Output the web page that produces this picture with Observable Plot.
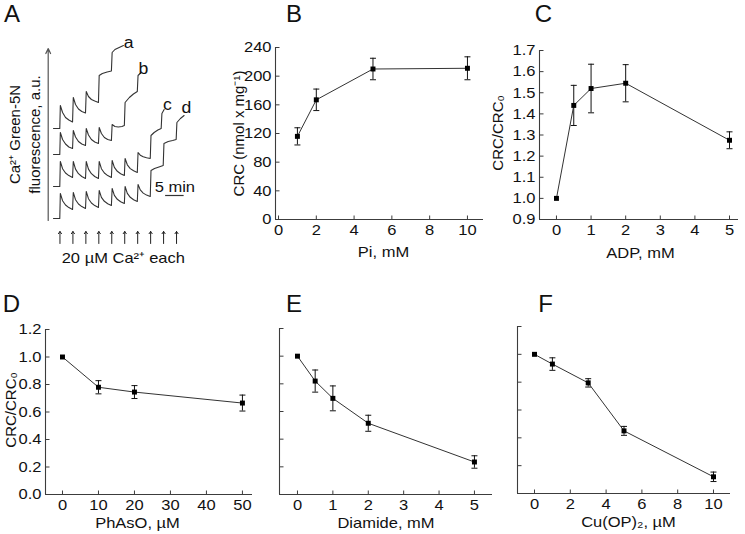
<!DOCTYPE html>
<html><head><meta charset="utf-8">
<script src="https://cdn.jsdelivr.net/npm/d3@7"></script>
<script src="https://cdn.jsdelivr.net/npm/@observablehq/plot@0.6"></script>
<style>
html,body{margin:0;padding:0;background:#fff;}
#fig{position:relative;width:745px;height:534px;overflow:hidden;background:#fff;}
#fig svg{max-width:none;overflow:visible;background:transparent;}
</style></head><body><div id="fig"></div>
<script>
// ---------- Panel A: Ca2+ Green-5N traces (t in min, F in a.u.) ----------
const pulseTimes = [1.75, 5.25, 8.75, 12.25, 15.75, 19.25, 22.75, 26.25, 29.75, 33.25];
const traceAT = [0, 1.7, 1.85, 2.45, 3.25, 4.15, 5.15, 5.35, 5.95, 6.75, 7.65, 8.65, 8.85, 9.45, 10.25, 11.15, 12.15, 12.35, 13.2, 14.5, 15.65, 15.85, 16.6, 18.9];
const traceAF = [92, 92, 115, 108, 103, 100.5, 98.5, 123, 116, 111.5, 109, 107.5, 129, 124, 121, 119.5, 118, 145, 147, 148.5, 149.5, 168, 171, 175];
const traceBT = [0, 1.7, 1.85, 2.45, 3.25, 4.15, 5.15, 5.35, 5.95, 6.75, 7.65, 8.65, 8.85, 9.45, 10.25, 11.15, 12.15, 12.35, 12.95, 13.75, 14.65, 15.65, 15.85, 16.6, 17.5, 18.5, 19.15, 19.35, 20.5, 21.6, 22.65, 22.85, 23.4];
const traceBF = [66, 66, 88, 81, 76.5, 73.5, 72, 90, 83.5, 79, 76.5, 75, 92, 85.5, 81, 78.5, 77, 93, 87, 83, 81, 80, 96, 94, 93.5, 94, 95, 118, 123, 126.5, 129, 145, 147];
const traceCT = [0, 1.7, 1.85, 2.45, 3.25, 4.15, 5.15, 5.35, 5.95, 6.75, 7.65, 8.65, 8.85, 9.45, 10.25, 11.15, 12.15, 12.35, 12.95, 13.75, 14.65, 15.65, 15.85, 16.45, 17.25, 18.15, 19.15, 19.35, 19.95, 20.75, 21.65, 22.65, 22.85, 23.45, 24.25, 25.15, 26.15, 26.35, 27.2, 28.2, 29.1, 29.3, 29.9];
const traceCF = [34, 34, 59, 51.8, 47.5, 44.9, 43, 59, 51.4, 46.8, 44, 42, 59, 51.4, 46.8, 44, 42, 59, 51.8, 47.5, 44.9, 43, 60, 53.2, 49.2, 46.8, 45, 62, 55.7, 51.9, 49.7, 48, 68, 65.3, 63.7, 62.7, 62, 85, 88, 90.5, 92, 107, 111];
const traceDT = [0, 1.7, 1.85, 2.45, 3.25, 4.15, 5.15, 5.35, 5.95, 6.75, 7.65, 8.65, 8.85, 9.45, 10.25, 11.15, 12.15, 12.35, 12.95, 13.75, 14.65, 15.65, 15.85, 16.45, 17.25, 18.15, 19.15, 19.35, 19.95, 20.75, 21.65, 22.65, 22.85, 23.45, 24.25, 25.15, 26.15, 26.35, 27.3, 28.5, 29.65, 29.85, 31, 32.2, 33.15, 33.35, 34.3, 35.3];
const traceDF = [2, 2, 27, 19.8, 15.5, 12.9, 11, 28, 20.8, 16.5, 13.9, 12, 29, 21.8, 17.5, 14.9, 13, 30, 23.2, 19.2, 16.8, 15, 32, 25.2, 21.2, 18.8, 17, 34, 27.2, 23.2, 20.8, 19, 36, 30.6, 27.4, 25.4, 24, 50, 52, 53.5, 55, 77, 79, 80, 81, 98, 102, 105];
const traceNames = ["a", "b", "c", "d"];
const traceLabelT = [20.3, 24.3, 30.8, 35.9];
const traceLabelF = [178, 152, 116, 113];
const scaleBarMin = 5, scaleBarStartT = 30.3, scaleBarF = 25;

// ---------- Panel B ----------
const piConc = [1, 2, 5, 10];
const piCRC = [116, 167, 210, 211];
const piErr = [12, 15, 15, 16];
const bTicksX = [0, 2, 4, 6, 8, 10];
const bTicksY = [0, 40, 80, 120, 160, 200, 240];

// ---------- Panel C ----------
const adpConc = [0, 0.5, 1, 2, 5];
const adpRatio = [1.0, 1.44, 1.52, 1.545, 1.275];
const adpErr = [0, 0.095, 0.115, 0.088, 0.04];
const cTicksX = [0, 1, 2, 3, 4, 5];
const cTicksY = [0.9, 1.0, 1.1, 1.2, 1.3, 1.4, 1.5, 1.6, 1.7];

// ---------- Panel D ----------
const phasoConc = [0, 10, 20, 50];
const phasoRatio = [1.0, 0.78, 0.745, 0.665];
const phasoErr = [0, 0.048, 0.047, 0.058];
const dTicksX = [0, 10, 20, 30, 40, 50];
const ratioTicksY = [0, 0.2, 0.4, 0.6, 0.8, 1.0, 1.2];

// ---------- Panel E ----------
const diamideConc = [0, 0.5, 1, 2, 5];
const diamideRatio = [1.0, 0.82, 0.695, 0.515, 0.235];
const diamideErr = [0, 0.08, 0.09, 0.058, 0.045];
const eTicksX = [0, 1, 2, 3, 4, 5];

// ---------- Panel F ----------
const cuopConc = [0, 1, 3, 5, 10];
const cuopRatio = [1.0, 0.93, 0.795, 0.45, 0.12];
const cuopErr = [0, 0.045, 0.03, 0.032, 0.034];
const fTicksX = [0, 2, 4, 6, 8, 10];

// ---------- helpers ----------
const FONT = "'Liberation Sans', Arial, sans-serif";
const AXIS = "#3c3c3c", INK = "#111";
const STRETCH = 1.1;
const tickRight = {draw(c){c.moveTo(0,0); c.lineTo(4,0);}};
const tickUp = {draw(c){c.moveTo(0,0); c.lineTo(0,-4);}};
const capSym = {draw(c){c.moveTo(-3,0); c.lineTo(3,0);}};
const intFmt = d3.format("d");
const fig = document.getElementById("fig");

function stretchTexts(svg) {
  svg.querySelectorAll("text").forEach(t => {
    const tr = t.getAttribute("transform") || "";
    if (/rotate/.test(tr) || t.querySelector("tspan") || t.closest("[font-size='24']")) return;
    const w = t.getComputedTextLength();
    if (w > 0) {
      t.setAttribute("textLength", (w * STRETCH).toFixed(2));
      t.setAttribute("lengthAdjust", "spacingAndGlyphs");
    }
  });
}

function place(svg, left, top, width, height) {
  const d = document.createElement("div");
  d.style.cssText = `position:absolute;left:${left}px;top:${top}px;width:${width}px;height:${height}px;`;
  d.append(svg); fig.append(d);
  stretchTexts(svg);
}

function panel(o) {
  const rows = o.xs.map((x, i) => ({x, y: o.ys[i], e: o.errs[i]}));
  const errRows = rows.filter(d => d.e > 0);
  const marks = [
    Plot.ruleX([o.xDomain[0]], {stroke: AXIS, strokeWidth: 1.1}),
    Plot.ruleY([o.yDomain[0]], {stroke: AXIS, strokeWidth: 1.1}),
    Plot.dot(o.yTicks, {x: () => o.xDomain[0], y: d => d, symbol: tickRight, stroke: AXIS, fill: "none", strokeWidth: 1}),
    Plot.dot(o.xTicks, {x: d => d, y: () => o.yDomain[0], symbol: tickUp, stroke: AXIS, fill: "none", strokeWidth: 1}),
    Plot.axisX({ticks: o.xTicks, tickSize: 0, tickPadding: o.xPad, label: null, tickFormat: intFmt, fontSize: 15}),
    Plot.ruleX(errRows, {x: "x", y1: d => d.y - d.e, y2: d => d.y + d.e, stroke: INK, strokeWidth: 1}),
    Plot.dot(errRows, {x: "x", y: d => d.y - d.e, symbol: capSym, stroke: INK, fill: "none", strokeWidth: 1}),
    Plot.dot(errRows, {x: "x", y: d => d.y + d.e, symbol: capSym, stroke: INK, fill: "none", strokeWidth: 1}),
    Plot.line(rows, {x: "x", y: "y", stroke: "#333", strokeWidth: 1}),
    Plot.dot(rows, {x: "x", y: "y", symbol: "square", r: 2.8, fill: "#000", stroke: "none"}),
    Plot.text([o.xTitle], {text: d => d, frameAnchor: "bottom", textAnchor: "middle", dx: o.xTitleDx, dy: o.xTitleDy, lineAnchor: "middle", fontSize: 15, fill: INK}),
    Plot.text([o.letter], {text: d => d, frameAnchor: "top-left", textAnchor: "middle", dx: o.letterDx, dy: o.letterDy, lineAnchor: "middle", fontSize: 24, fill: INK})
  ];
  if (o.yLabels) {
    marks.push(Plot.axisY({ticks: o.yTicks, tickSize: 0, tickPadding: 4, label: null, tickFormat: o.yFormat, fontSize: 15}));
  }
  if (o.yTitle) {
    marks.push(Plot.text([o.yTitle], {text: d => d, frameAnchor: "left", textAnchor: "middle", rotate: -90, dx: o.yTitleDx, dy: o.yTitleDy, lineAnchor: "middle", fontSize: 15, fill: INK}));
  }
  const svg = Plot.plot({
    width: o.width, height: o.height,
    marginLeft: o.ml, marginRight: o.mr, marginTop: o.mt, marginBottom: o.mb,
    x: {domain: o.xDomain},
    y: {domain: o.yDomain, axis: o.yLabels ? undefined : null},
    style: {fontFamily: FONT, fontSize: "15px", color: INK, background: "transparent", overflow: "visible"},
    marks
  });
  place(svg, o.left, o.top, o.width, o.height);
}

// ---------- Panel A ----------
(function () {
  const traces = [[traceAT, traceAF], [traceBT, traceBF], [traceCT, traceCF], [traceDT, traceDF]];
  const rows = traces.flatMap(([ts, fs], k) => ts.map((t, i) => ({t, F: fs[i], trace: traceNames[k]})));
  const labels = traceNames.map((n, i) => ({n, t: traceLabelT[i], F: traceLabelF[i]}));
  const xA = [-1.43, 39.7], yA = [0, 172];
  const svg = Plot.plot({
    width: 230, height: 270,
    marginLeft: 47.7, marginRight: 30.1, marginTop: 48, marginBottom: 50,
    x: {domain: xA, axis: null},
    y: {domain: yA, axis: null},
    style: {fontFamily: FONT, fontSize: "15px", color: INK, background: "transparent", overflow: "visible"},
    marks: [
      Plot.arrow([0], {x1: () => xA[0], x2: () => xA[0], y1: () => yA[0], y2: () => yA[1], stroke: "#555", strokeWidth: 1.2, headLength: 7, headAngle: 50}),
      Plot.line(rows, {x: "t", y: "F", z: "trace", stroke: "#333", strokeWidth: 1.1}),
      Plot.text(labels, {x: "t", y: "F", text: "n", fontSize: 16, textAnchor: "middle", lineAnchor: "middle", fill: INK}),
      Plot.arrow(pulseTimes, {x: d => d, y1: () => -23, y2: () => -11, stroke: "#222", strokeWidth: 1, headLength: 4, headAngle: 70}),
      Plot.text(["20 µM Ca²⁺ each"], {text: d => d, frameAnchor: "bottom", textAnchor: "middle", dx: -1, dy: 38, lineAnchor: "middle", fontSize: 15, fill: INK}),
      Plot.ruleY([scaleBarF], {y: d => d, x1: () => scaleBarStartT, x2: () => scaleBarStartT + scaleBarMin, stroke: "#333", strokeWidth: 1.2}),
      Plot.text([scaleBarMin + " min"], {text: d => d, x: () => scaleBarStartT + scaleBarMin / 2, y: () => scaleBarF, dy: -8, textAnchor: "middle", lineAnchor: "middle", fontSize: 15, fill: INK}),
      Plot.text(["Ca²⁺ Green-5N\nfluorescence, a.u."], {text: d => d, frameAnchor: "left", textAnchor: "middle", rotate: -90, dx: -24.7, lineHeight: 1.33, lineAnchor: "middle", fontSize: 15, fill: INK}),
      Plot.text(["A"], {text: d => d, frameAnchor: "top-left", textAnchor: "middle", dx: -36.2, dy: -34.5, lineAnchor: "middle", fontSize: 24, fill: INK})
    ]
  });
  place(svg, 0, 0, 230, 270);
})();

panel({left: 230, top: 0, width: 265, height: 270, ml: 45, mr: 12, mt: 47, mb: 51,
  xDomain: [-0.16, 10.85], yDomain: [0, 240], xTicks: bTicksX, yTicks: bTicksY, yLabels: true, yFormat: intFmt, xPad: 5,
  xs: piConc, ys: piCRC, errs: piErr,
  xTitle: "Pi, mM", xTitleDx: 4, xTitleDy: 33,
  yTitle: "CRC (nmol x mg⁻¹)", yTitleDx: -36, yTitleDy: 0,
  letter: "B", letterDx: 18.5, letterDy: -33.5});

panel({left: 495, top: 0, width: 250, height: 270, ml: 44, mr: 7, mt: 50, mb: 51,
  xDomain: [-0.49, 5.26], yDomain: [0.9, 1.7], xTicks: cTicksX, yTicks: cTicksY, yLabels: true, yFormat: d3.format(".1f"), xPad: 5,
  xs: adpConc, ys: adpRatio, errs: adpErr,
  xTitle: "ADP, mM", xTitleDx: 1.5, xTitleDy: 34,
  yTitle: "CRC/CRC₀", yTitleDx: -41, yTitleDy: -2,
  letter: "C", letterDx: 4, letterDy: -36.5});

panel({left: 0, top: 270, width: 255, height: 264, ml: 45, mr: 3, mt: 59, mb: 40,
  xDomain: [-4.72, 52.8], yDomain: [0, 1.2], xTicks: dTicksX, yTicks: ratioTicksY, yLabels: true, yFormat: d3.format(".1f"), xPad: 4.5,
  xs: phasoConc, ys: phasoRatio, errs: phasoErr,
  xTitle: "PhAsO, µM", xTitleDx: -11.5, xTitleDy: 28.5,
  yTitle: "CRC/CRC₀", yTitleDx: -34, yTitleDy: -2,
  letter: "D", letterDx: -34, letterDy: -25.5});

panel({left: 255, top: 270, width: 245, height: 264, ml: 24, mr: 8, mt: 58, mb: 40,
  xDomain: [-0.508, 5.51], yDomain: [0, 1.2], xTicks: eTicksX, yTicks: ratioTicksY, yLabels: false, xPad: 4.5,
  xs: diamideConc, ys: diamideRatio, errs: diamideErr,
  xTitle: "Diamide, mM", xTitleDx: 0, xTitleDy: 28.5,
  letter: "E", letterDx: 14.5, letterDy: -24});

panel({left: 500, top: 270, width: 245, height: 264, ml: 17, mr: 15, mt: 56, mb: 41,
  xDomain: [-0.95, 10.95], yDomain: [0, 1.2], xTicks: fTicksX, yTicks: ratioTicksY, yLabels: false, xPad: 4.5,
  xs: cuopConc, ys: cuopRatio, errs: cuopErr,
  xTitle: "Cu(OP)₂, µM", xTitleDx: 4.5, xTitleDy: 28.5,
  letter: "F", letterDx: 28, letterDy: -22.5});
</script></body></html>
